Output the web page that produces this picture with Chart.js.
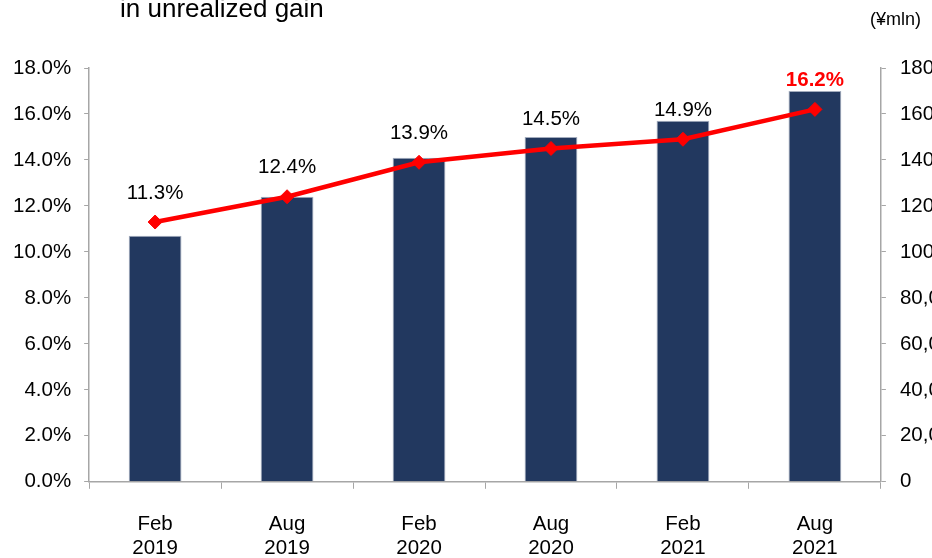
<!DOCTYPE html>
<html>
<head>
<meta charset="utf-8">
<script src="https://cdn.jsdelivr.net/npm/chart.js@4/dist/chart.umd.min.js"></script>
<style>
  html, body { margin: 0; padding: 0; background: #fff; overflow: hidden; width: 932px; height: 558px; }
  #wrap { position: absolute; left: 0; top: 0; width: 988px; height: 584px; }
  .txt { position: absolute; font-family: "Liberation Sans", Arial, sans-serif; color: #000; line-height: 1; white-space: nowrap; }
</style>
</head>
<body>
<div id="wrap"><canvas id="c"></canvas></div>
<div class="txt" style="left:120px; top:-5px; font-size:26px;">in unrealized gain</div>
<div class="txt" style="left:870px; top:10px; font-size:18px;">(¥mln)</div>
<script>
const categories = [["Feb","2019"],["Aug","2019"],["Feb","2020"],["Aug","2020"],["Feb","2021"],["Aug","2021"]];
const unrealizedGain = [107000, 124000, 141000, 150000, 157000, 170000]; // ¥mln (bars, right axis)
const gainRatio = [11.3, 12.4, 13.9, 14.5, 14.9, 16.2]; // % (line, left axis)
const ratioLabels = ["11.3%", "12.4%", "13.9%", "14.5%", "14.9%", "16.2%"];

const FONT = "'Liberation Sans', Arial, sans-serif";
const AXIS = '#a6a6a6';

const labelPlugin = {
  id: 'ratioLabels',
  afterDatasetsDraw(chart) {
    const meta = chart.getDatasetMeta(1);
    const ctx = chart.ctx;
    ctx.save();
    ctx.textAlign = 'center';
    ctx.textBaseline = 'middle';
    meta.data.forEach((pt, i) => {
      const last = i === meta.data.length - 1;
      ctx.font = (last ? 'bold ' : '') + '20.5px ' + FONT;
      ctx.fillStyle = last ? '#ff0000' : '#000';
      ctx.fillText(ratioLabels[i], pt.x, pt.y - 29);
    });
    ctx.restore();
  }
};

new Chart(document.getElementById('c'), {
  data: {
    labels: categories,
    datasets: [
      {
        type: 'bar',
        data: unrealizedGain,
        yAxisID: 'y1',
        backgroundColor: '#22385f',
        borderColor: '#a3acbd',
        borderWidth: 1,
        barPercentage: 0.4,
        categoryPercentage: 1,
        order: 1
      },
      {
        type: 'line',
        data: gainRatio,
        yAxisID: 'y',
        borderColor: '#ff0000',
        borderWidth: 4.5,
        pointStyle: 'rectRot',
        pointRadius: 7,
        pointBackgroundColor: '#ff0000',
        pointBorderColor: '#ff0000',
        pointBorderWidth: 1,
        tension: 0,
        order: 0
      }
    ]
  },
  options: {
    responsive: true,
    maintainAspectRatio: false,
    animation: false,
    devicePixelRatio: 1,
    layout: { padding: { top: 68, left: 0, right: 0, bottom: 0 } },
    plugins: { legend: { display: false }, tooltip: { enabled: false }, title: { display: false } },
    scales: {
      x: {
        offset: true,
        grid: { offset: true, drawOnChartArea: false, drawTicks: true, tickLength: 7, color: AXIS },
        border: { color: AXIS, width: 1.5 },
        ticks: { color: '#000', font: { family: FONT, size: 20.5, lineHeight: 1.2 }, padding: 23, maxRotation: 0 }
      },
      y: {
        position: 'left',
        min: 0, max: 18,
        grid: { drawOnChartArea: false, drawTicks: true, tickLength: 5, color: AXIS },
        border: { color: AXIS, width: 1.5 },
        ticks: { stepSize: 2, color: '#000', font: { family: FONT, size: 20.5 }, padding: 13,
                 callback: v => v.toFixed(1) + '%' }
      },
      y1: {
        position: 'right',
        min: 0, max: 180000,
        grid: { drawOnChartArea: false, drawTicks: true, tickLength: 5, color: AXIS },
        border: { color: AXIS, width: 1.5 },
        ticks: { stepSize: 20000, color: '#000', font: { family: FONT, size: 20.5 }, padding: 14,
                 callback: v => v.toLocaleString('en-US') }
      }
    }
  },
  plugins: [labelPlugin]
});
</script>
</body>
</html>
